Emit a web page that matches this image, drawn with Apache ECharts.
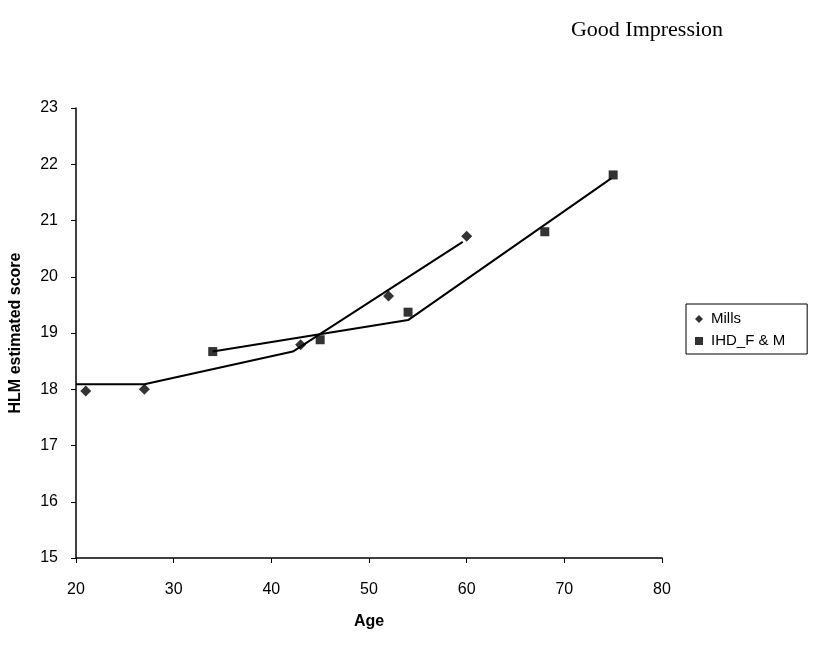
<!DOCTYPE html>
<html>
<head>
<meta charset="utf-8">
<script src="https://cdn.jsdelivr.net/npm/echarts@6/dist/echarts.min.js"></script>
<style>
  html, body { margin: 0; padding: 0; background: #fff; }
  #chart { width: 825px; height: 646px; }
</style>
</head>
<body>
<div id="chart"></div>
<script>
// observed points (age, score)
const millsAge = [21, 27, 43, 52, 60]
const millsScore = [17.97, 18.0, 18.79, 19.66, 20.72]
const ihdAge = [34, 45, 54, 68, 75]
const ihdScore = [18.67, 18.88, 19.37, 20.8, 21.81]

// fitted (piecewise) lines
const millsFitAge = [20, 27, 42.2, 59.6]
const millsFitScore = [18.09, 18.09, 18.67, 20.62]
const ihdFitAge = [34, 54, 74.8]
const ihdFitScore = [18.67, 19.23, 21.75]

const xTicks = [20, 30, 40, 50, 60, 70, 80]
const yTicks = [15, 16, 17, 18, 19, 20, 21, 22, 23]

const pairs = (xs, ys) => xs.map((x, i) => [x, ys[i]])

const chart = echarts.init(document.getElementById("chart"))
const font = "Liberation Sans, Arial, sans-serif"

chart.setOption({
  animation: false,
  backgroundColor: "#fff",
  title: {
    text: "Good Impression",
    left: 642,
    top: 14,
    textAlign: "center",
    textStyle: { fontFamily: "Liberation Serif, Times New Roman, serif", fontSize: 22, fontWeight: "normal", color: "#000" }
  },
  legend: {
    orient: "vertical",
    left: 686,
    top: 304,
    padding: [7, 22, 5, 9],
    itemGap: 6,
    itemWidth: 8,
    itemHeight: 8,
    borderColor: "#000",
    borderWidth: 1,
    data: [
      { name: "Mills", icon: "diamond" },
      { name: "IHD_F & M", icon: "rect" }
    ],
    textStyle: { fontFamily: font, fontSize: 15, lineHeight: 16, color: "#000", padding: [0, 0, 0, 3] }
  },
  grid: { left: 76, right: 163, top: 108, bottom: 88 },
  xAxis: {
    type: "value",
    min: xTicks[0],
    max: xTicks[xTicks.length - 1],
    interval: 10,
    name: "Age",
    nameLocation: "middle",
    nameGap: 56,
    nameTextStyle: { fontFamily: font, fontSize: 16, fontWeight: "bold", color: "#000" },
    axisLine: { lineStyle: { color: "#000", width: 1.5 } },
    axisTick: { inside: false, length: 5, lineStyle: { color: "#000" } },
    axisLabel: { fontFamily: font, fontSize: 16, color: "#000", margin: 24 },
    splitLine: { show: false }
  },
  yAxis: {
    type: "value",
    min: yTicks[0],
    max: yTicks[yTicks.length - 1],
    interval: 1,
    name: "HLM estimated score",
    nameLocation: "middle",
    nameGap: 52,
    nameTextStyle: { fontFamily: font, fontSize: 16, fontWeight: "bold", color: "#000" },
    axisLine: { show: true, lineStyle: { color: "#000", width: 1.5 } },
    axisTick: { show: true, inside: false, length: 5, lineStyle: { color: "#000" } },
    axisLabel: { fontFamily: font, fontSize: 16, color: "#000", margin: 18 },
    splitLine: { show: false }
  },
  series: [
    {
      name: "Mills fit",
      type: "line",
      data: pairs(millsFitAge, millsFitScore),
      showSymbol: false,
      symbol: "none",
      lineStyle: { color: "#000", width: 2 },
      z: 2
    },
    {
      name: "IHD fit",
      type: "line",
      data: pairs(ihdFitAge, ihdFitScore),
      showSymbol: false,
      symbol: "none",
      lineStyle: { color: "#000", width: 2 },
      z: 2
    },
    {
      name: "Mills",
      type: "scatter",
      symbol: "diamond",
      symbolSize: 11,
      itemStyle: { color: "#000" },
      data: pairs(millsAge, millsScore),
      z: 3
    },
    {
      name: "IHD_F & M",
      type: "scatter",
      symbol: "rect",
      symbolSize: 9,
      itemStyle: { color: "#000" },
      data: pairs(ihdAge, ihdScore),
      z: 3
    }
  ]
})
</script>
</body>
</html>
